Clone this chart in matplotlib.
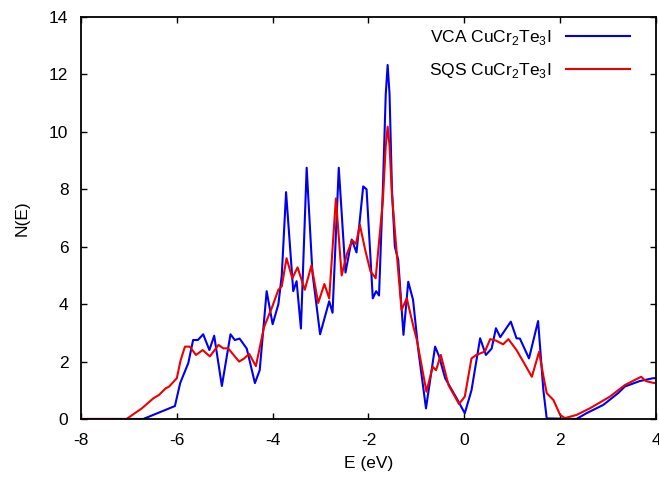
import matplotlib
matplotlib.use("Agg")
from matplotlib import pyplot
import matplotlib.ticker as ticker

pyplot.rcParams['font.family'] = ['Liberation Sans', 'DejaVu Sans']
pyplot.rcParams['axes.unicode_minus'] = False
pyplot.rcParams['mathtext.fontset'] = 'custom'
pyplot.rcParams['mathtext.rm'] = 'Liberation Sans'

# VCA CuCr2Te3I
vca_e = [-8.0, -6.70, -6.04, -5.93, -5.76, -5.66, -5.56, -5.45, -5.32, -5.22, -5.06,
         -4.88, -4.79, -4.69, -4.54, -4.37, -4.27, -4.125, -4.0, -3.88, -3.81, -3.72,
         -3.57, -3.50, -3.41, -3.29, -3.17, -3.01, -2.82, -2.75, -2.62, -2.48, -2.35,
         -2.25, -2.11, -2.04, -1.91, -1.84, -1.78, -1.70, -1.64, -1.60, -1.56, -1.51,
         -1.45, -1.38, -1.27, -1.17,
         -1.07, -0.96, -0.80, -0.61, -0.53, -0.40, -0.16, 0.01, 0.15, 0.33, 0.45, 0.57,
         0.66, 0.75, 0.97, 1.09, 1.16, 1.35, 1.54, 1.65, 1.72, 2.34, 2.55, 2.90, 3.21,
         3.35, 3.66, 3.94, 4.0]
vca_n = [0.0, 0.0, 0.45, 1.25, 1.95, 2.75, 2.75, 2.95, 2.40, 2.90, 1.15,
         2.95, 2.75, 2.80, 2.45, 1.25, 1.70, 4.45, 3.30, 4.00, 5.00, 7.90,
         4.45, 4.80, 3.15, 8.75, 5.10, 2.95, 4.10, 3.70, 8.75, 5.10, 6.25,
         5.80, 8.10, 8.00, 4.20, 4.45, 4.30, 8.00, 11.30, 12.33, 11.30, 8.00,
         6.00, 5.55, 2.93, 4.78,
         4.15, 2.40, 0.37, 2.52, 2.20, 1.42, 0.72, 0.20, 1.00, 2.81, 2.23, 2.45,
         3.16, 2.85, 3.39, 2.81, 2.80, 2.11, 3.41, 1.00, 0.02, 0.0, 0.20, 0.49, 0.90,
         1.13, 1.32, 1.42, 1.42]

# SQS CuCr2Te3I
sqs_e = [-8.0, -7.05, -6.73, -6.49, -6.37, -6.23, -6.16, -6.00, -5.92, -5.83, -5.73,
         -5.60, -5.46, -5.31, -5.13, -5.03, -4.93, -4.70, -4.60, -4.49, -4.35, -4.18,
         -4.02, -3.88, -3.81, -3.71, -3.59, -3.48, -3.33, -3.19, -3.05, -2.92, -2.82,
         -2.68, -2.56, -2.45, -2.34, -2.26, -2.18, -2.07, -1.96, -1.85, -1.70, -1.64,
         -1.60, -1.56, -1.51, -1.41,
         -1.31, -1.20, -1.06, -0.99, -0.79, -0.66, -0.59, -0.49, -0.33, -0.11, 0.01,
         0.15, 0.25, 0.43, 0.54, 0.66, 0.81, 0.92, 1.09, 1.27, 1.41, 1.56, 1.65, 1.72,
         1.86, 2.00, 2.10, 2.34, 2.62, 3.04, 3.35, 3.69, 3.79, 3.94, 4.0]
sqs_n = [0.0, 0.0, 0.37, 0.72, 0.84, 1.07, 1.13, 1.42, 2.05, 2.52, 2.52,
         2.23, 2.40, 2.18, 2.58, 2.46, 2.46, 2.00, 2.10, 2.27, 1.84, 3.20,
         3.86, 4.50, 4.62, 5.60, 4.90, 5.28, 4.50, 5.35, 4.04, 4.70, 4.20,
         7.68, 5.00, 5.75, 6.22, 6.10, 6.76, 5.90, 5.15, 4.90, 7.60, 9.50,
         10.18, 9.50, 7.80, 5.76,
         3.80, 4.20, 3.20, 2.75, 0.95, 1.82, 1.70, 2.23, 1.18, 0.52, 0.78,
         2.11, 2.23, 2.35, 2.78, 2.73, 2.60, 2.78, 2.40, 1.88, 1.47, 2.34, 1.50, 0.90,
         0.66, 0.14, 0.03, 0.14, 0.37, 0.78, 1.18, 1.47, 1.32, 1.26, 1.25]

fig = pyplot.figure(figsize=(6.59, 4.79), dpi=100)
ax = fig.add_axes([0.1229, 0.1253, 0.8725, 0.8392])

ax.plot(vca_e, vca_n, color='#0000ee', linewidth=1.5, label='VCA CuCr$_2$Te$_3$I',
        solid_joinstyle='round')
ax.plot(sqs_e, sqs_n, color='#ee0000', linewidth=1.5, label='SQS CuCr$_2$Te$_3$I',
        solid_joinstyle='round')

ax.set_xlim(-8, 4)
ax.set_ylim(0, 14)
ax.xaxis.set_major_locator(ticker.MultipleLocator(2))
ax.yaxis.set_major_locator(ticker.MultipleLocator(2))
ax.tick_params(direction='in', top=True, right=True, labelsize=12.5, length=4.5, width=1)
ax.tick_params(axis='y', pad=9)
ax.tick_params(axis='x', pad=10)
for s in ax.spines.values():
    s.set_linewidth(1.3)

ax.set_xlabel('E (eV)', fontsize=12.5, labelpad=6)
ax.set_ylabel('N(E)', fontsize=12.5, labelpad=14)

ax.legend(loc='upper right', bbox_to_anchor=(0.967, 0.99), borderaxespad=0,
          frameon=False, markerfirst=False, fontsize=12.5,
          handlelength=3.7, handletextpad=0.8, labelspacing=0.8)

fig.savefig('out.png')
